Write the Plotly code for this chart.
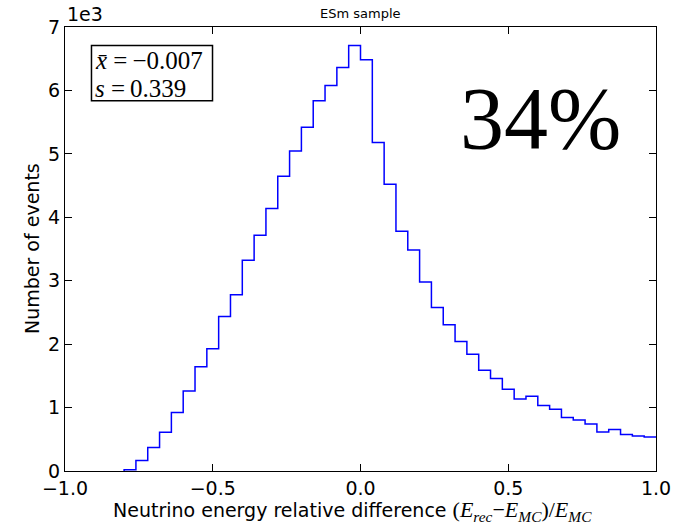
import numpy as np
import plotly.graph_objects as go

# Histogram: 50 bins from -1 to 1 (width 0.04); counts
bin_lo, bin_hi, n_bins = -1.0, 1.0, 50
counts = [0, 0, 0, 0, 0,
          20, 164, 369, 611, 922,
          1263, 1642, 1926, 2437, 2779,
          3321, 3716, 4137, 4648, 5047,
          5421, 5837, 6079, 6363, 6710,
          6484, 5178, 4521, 3779, 3484,
          2979, 2579, 2305, 2043, 1842,
          1590, 1458, 1290, 1137, 1179,
          1032, 974, 843, 805, 742,
          616, 653, 574, 553, 537]

x_tickvals = [-1.0, -0.5, 0.0, 0.5, 1.0]
x_ticktext = ["\u22121.0", "\u22120.5", "0.0", "0.5", "1.0"]
y_tickvals = [0, 1000, 2000, 3000, 4000, 5000, 6000, 7000]
y_ticktext = ["0", "1", "2", "3", "4", "5", "6", "7"]

mean_txt = "\u22120.007"
std_txt = "0.339"
resolution_txt = "34%"
title_txt = "ESm sample"

edges = np.linspace(bin_lo, bin_hi, n_bins + 1)
# drop leading empty bins (they lie on the axis)
first = next(i for i, c in enumerate(counts) if c > 0)
xs = [edges[first]] + list(edges[first:])
ys = [0] + counts[first:] + [counts[-1]]

fig = go.Figure()
fig.add_trace(go.Scatter(
    x=xs, y=ys, mode="lines", line=dict(shape="hv", color="#0000ff", width=1.5),
    hoverinfo="skip", showlegend=False, cliponaxis=True))

FS = 19
axis_common = dict(showline=True, linecolor="black", linewidth=1, mirror="ticks",
                   ticks="inside", ticklen=7, tickcolor="black", tickwidth=1,
                   showgrid=False, zeroline=False, automargin=False,
                   tickfont=dict(family="DejaVu Sans", size=FS, color="black"))

fig.update_xaxes(range=[-1, 1], tickvals=x_tickvals, ticktext=x_ticktext, **axis_common)
fig.update_yaxes(range=[0, 7000], tickvals=y_tickvals, ticktext=y_ticktext, **axis_common)

serif = "Liberation Serif"
xlabel = ("Neutrino energy relative difference "
          f"<span style='font-family:{serif};font-size:22px'>(<i>E</i><sub><i>rec</i></sub>\u2212"
          "<i>E</i><sub><i>MC</i></sub>)/<i>E</i><sub><i>MC</i></sub></span>")

annotations = [
    dict(text=title_txt, xref="paper", yref="paper", x=0.5, y=1.0, yshift=4,
         xanchor="center", yanchor="bottom", showarrow=False,
         font=dict(family="DejaVu Sans", size=13, color="black")),
    dict(text="1e3", xref="paper", yref="paper", x=0.0, y=1.0, yshift=0,
         xanchor="left", yanchor="bottom", showarrow=False,
         font=dict(family="DejaVu Sans", size=FS, color="black")),
    dict(text=xlabel, xref="paper", yref="paper", x=0.5, xshift=-8, y=0, yshift=-24,
         xanchor="center", yanchor="top", showarrow=False,
         font=dict(family="DejaVu Sans", size=FS, color="black")),
    dict(text="Number of events", xref="paper", yref="paper", x=0, xshift=-33,
         y=0.5, xanchor="center", yanchor="middle", textangle=-90, showarrow=False,
         font=dict(family="DejaVu Sans", size=FS, color="black")),
    dict(text=f"<i>x\u0304</i> =\u2009{mean_txt}",
         xref="paper", yref="paper", x=0.048, y=0.925, xanchor="left", yanchor="middle",
         showarrow=False, font=dict(family=serif, size=25, color="black")),
    dict(text=f"<i>s</i> =\u2009{std_txt}",
         xref="paper", yref="paper", x=0.048, y=0.862, xanchor="left", yanchor="middle",
         showarrow=False, font=dict(family=serif, size=25, color="black")),
    dict(text=resolution_txt, xref="paper", yref="paper", x=0.805, y=0.795,
         xanchor="center", yanchor="middle", showarrow=False,
         font=dict(family=serif, size=88, color="black")),
]

fig.update_layout(
    width=677, height=524,
    margin=dict(l=65, r=21, t=27, b=53),
    paper_bgcolor="white", plot_bgcolor="white",
    annotations=annotations,
    shapes=[dict(type="rect", xref="paper", yref="paper", x0=0.0448, x1=0.2496,
                 y0=0.834, y1=0.9585, line=dict(color="black", width=1.5),
                 fillcolor="rgba(0,0,0,0)", layer="above")],
)

fig.write_html("out.html", config={"displayModeBar": False},
               post_script="document.body.style.margin='0';document.body.style.overflow='hidden';")
